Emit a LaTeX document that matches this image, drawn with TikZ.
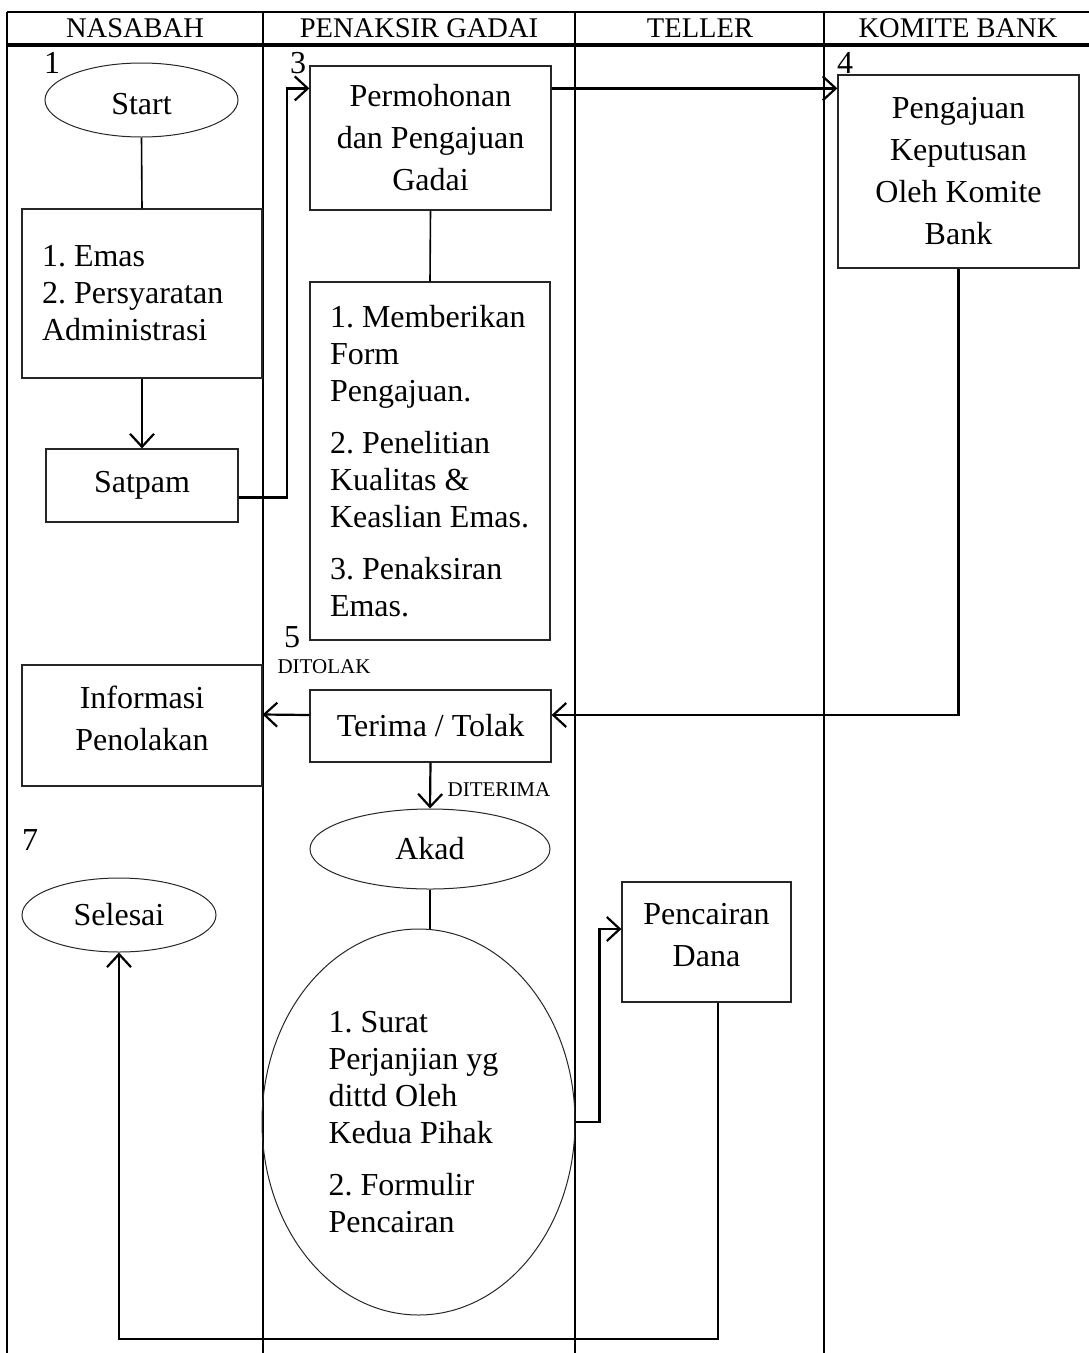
\documentclass[tikz,border=0pt]{standalone}
\usepackage{fontspec}
\setmainfont{Liberation Serif}
\usetikzlibrary{arrows.meta,shapes.geometric,calc}
\begin{document}
\begin{tikzpicture}[x=1pt,y=-1pt,
  every node/.style={font=\fontsize{32pt}{37pt}\selectfont\frenchspacing, inner sep=0pt},
  box/.style={draw=black!85, line width=1.2pt, rectangle},
  oval/.style={draw=black!85, line width=1pt, ellipse},
  wide/.style={font=\fontsize{32pt}{42pt}\selectfont},
  listtext/.style={align=flush left, execute at begin node={\hyphenpenalty=10000 \exhyphenpenalty=10000 }},
  lanes/.style={line width=2.4pt},
  arr/.style={line width=2.2pt, -{Straight Barb[length=13pt,width=24pt,line width=2.2pt]}},
  link/.style={line width=1.6pt},
  lbl/.style={anchor=base},
  small/.style={font=\fontsize{21pt}{24pt}\selectfont, anchor=base},
  hdr/.style={font=\fontsize{28.5pt}{32pt}\selectfont, anchor=base}]
\useasboundingbox (0,0) rectangle (1089,1353);
% lanes
\draw[lanes] (7,12) -- (1089,12);
\draw[line width=3.2pt] (7,45) -- (1089,45);
\foreach \x in {7,263,575,824} \draw[lanes] (\x,12) -- (\x,1353);
\node[hdr] (h1) at (135,37) {NASABAH};
\node[hdr] (h2) at (419,37) {PENAKSIR GADAI};
\node[hdr] (h3) at (700,37) {TELLER};
\node[hdr] (h4) at (958,37) {KOMITE BANK};
% numbers
\node[lbl] (n1) at (52,73) {1};
\node[lbl] (n3) at (298,73) {3};
\node[lbl] (n4) at (845,73) {4};
\node[lbl] (n5) at (292,647) {5};
\node[lbl] (n7) at (30,850) {7};
\node[small] (ditolak) at (324,673) {DITOLAK};
\node[small] (diterima) at (499,796) {DITERIMA};
% shapes
\node[oval, minimum width=193pt, minimum height=74pt, text height=30pt] (start) at (141.5,100) {Start};
\node[box, minimum width=240pt, minimum height=169pt, text width=200pt, listtext] (box1) at (142,293.5) {1. Emas\\2. Persyaratan\\Administrasi};
\node[box, minimum width=192pt, minimum height=73pt] (satpam) at (142,485.5) {Satpam};
\node[box, wide, minimum width=241pt, minimum height=144pt, align=center] (perm) at (430.5,138) {Permohonan\\dan Pengajuan\\Gadai};
\node[box, wide, minimum width=241pt, minimum height=193pt, align=center] (peng) at (958.5,171.5) {Pengajuan\\Keputusan\\Oleh Komite\\Bank};
\node[box, minimum width=240pt, minimum height=358pt, text width=200pt, listtext] (box2) at (430,461) {1. Memberikan\\Form\\Pengajuan.\\[15pt]2. Penelitian\\Kualitas \&\\Keaslian Emas.\\[15pt]3. Penaksiran\\Emas.};
\node[box, minimum width=241pt, minimum height=72pt] (terima) at (430.5,726) {Terima / Tolak};
\node[box, wide, minimum width=240pt, minimum height=121pt, align=center, text depth=14pt] (info) at (142,725.5) {Informasi\\Penolakan};
\node[oval, minimum width=240pt, minimum height=80pt] (akad) at (430,849) {Akad};
\node[oval, minimum width=194pt, minimum height=74pt] (selesai) at (119,915) {Selesai};
\node[oval, minimum width=313pt, minimum height=386pt, text width=180pt, listtext] (big) at (418.5,1122) {1. Surat\\Perjanjian yg\\dittd Oleh\\Kedua Pihak\\[15pt]2. Formulir\\Pencairan};
\node[box, wide, minimum width=169pt, minimum height=120pt, align=center, text depth=14pt] (cair) at (706.5,942) {Pencairan\\Dana};
% connectors
\draw[link] (start.south) -- (box1.north);
\draw[arr] (box1.south) -- (satpam.north);
\draw[arr] ([yshift=-12pt]satpam.east) -- ++(48,0) |- ([yshift=-23pt]perm.north west);
\draw[arr] ([yshift=-23pt]perm.north east) -- ([yshift=-14pt]peng.north west);
\draw[link] (perm.south) -- (box2.north);
\draw[arr] (peng.south) |- ([yshift=11pt]terima.east);
\draw[arr] ([yshift=11pt]terima.west) -- ([yshift=11pt]info.east);
\draw[arr] (terima.south) -- (akad.north);
\draw[link] (akad.south) -- (akad.south |- big.north);
\draw[arr] (big.east) -- ++(24,0) |- ([yshift=13pt]cair.west);
\draw[arr] ([xshift=11.5pt]cair.south) -- ++(0,336) -| (selesai.south);
\end{tikzpicture}
\end{document}
